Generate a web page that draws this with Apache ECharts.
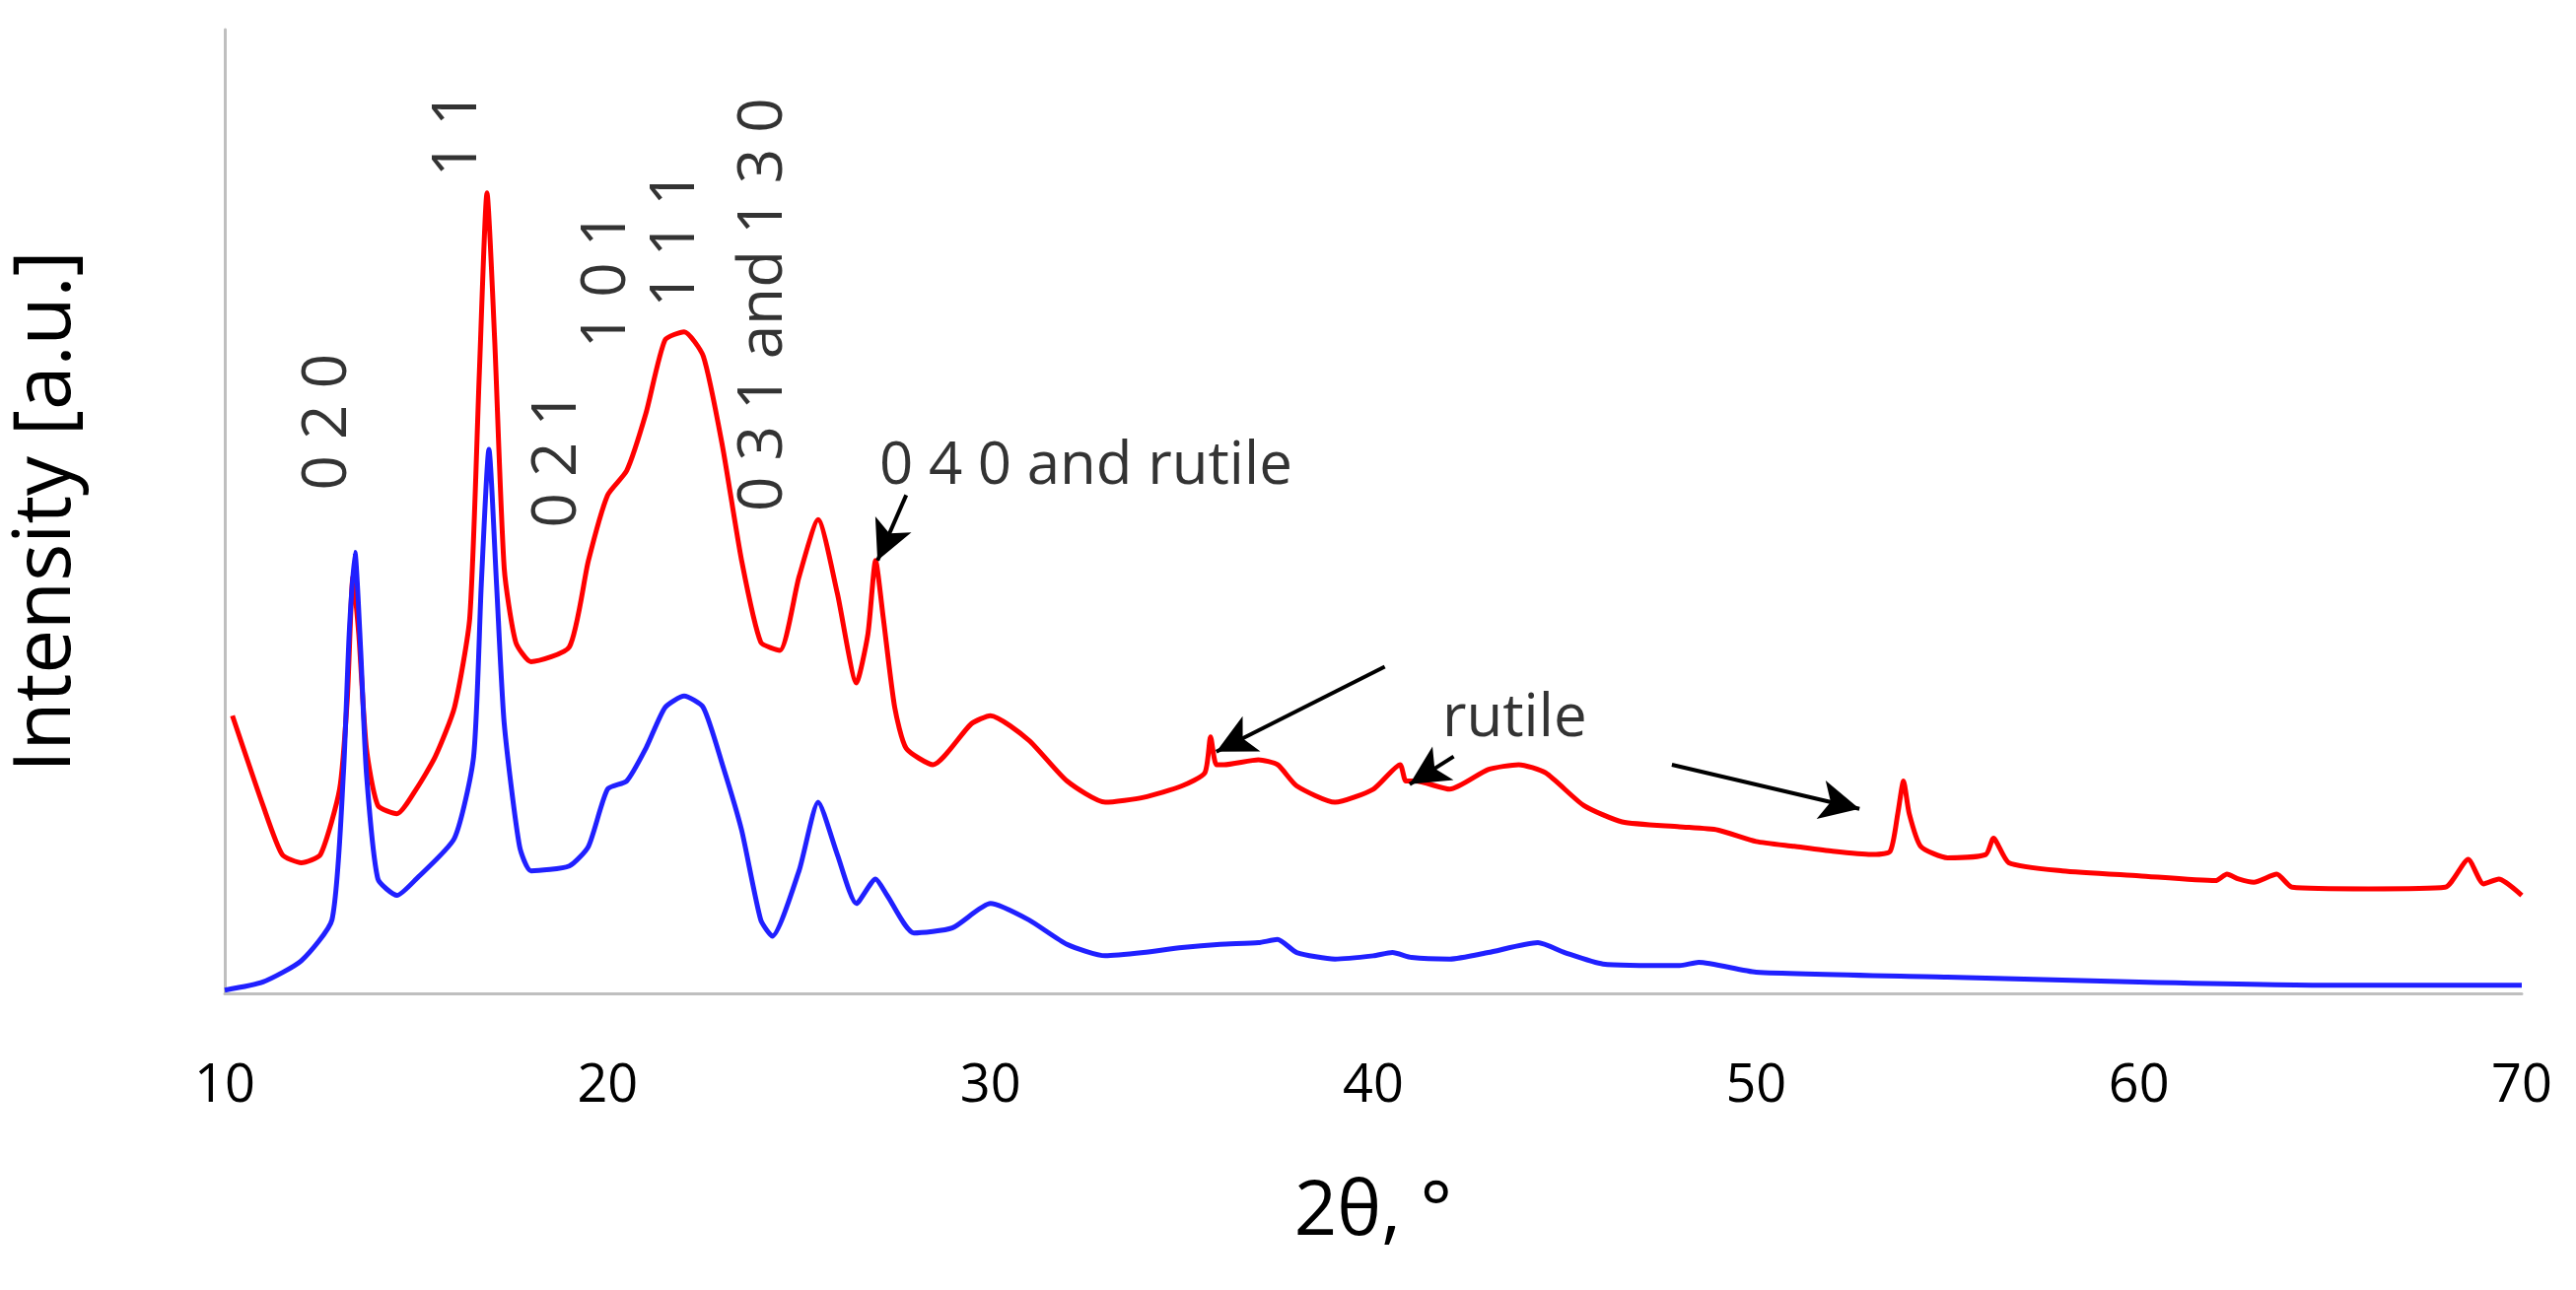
<!DOCTYPE html>
<html>
<head>
<meta charset="utf-8">
<script src="https://cdn.jsdelivr.net/npm/echarts@6/dist/echarts.min.js"></script>
<style>html,body{margin:0;padding:0;background:#fff}#chart{width:2613px;height:1309px}</style>
</head>
<body>
<div id="chart"></div>
<script>
// red pattern (upper trace)
var redX = [10.2,11,11.5,12,12.5,13,13.2,13.35,13.5,13.7,14,14.5,15,15.5,16,16.4,16.65,16.85,17.05,17.3,17.6,18,19,19.5,20,20.5,21,21.5,22,22.5,23,23.5,24,24.5,25,25.5,26,26.5,26.8,27.0,27.2,27.5,27.8,28.5,29.5,30,31,32,33,34,35,35.6,35.75,35.9,36.1,37,37.5,38,39,40,40.7,40.85,41.1,42,43,43.8,44.5,45.5,46.5,48,49,50,51,52,53,53.5,53.7,53.85,54.0,54.3,55,56,56.2,56.6,58,60,62,62.3,62.6,63,63.6,64,66,68,68.6,69,69.4,70];
var redY = [170,115,85,80,85,125,180,255,220,150,115,110,125,145,175,230,380,490,400,260,215,203,212,265,305,320,355,400,405,390,335,265,215,210,255,290,245,190,220,265,230,175,150,140,165,170,155,130,117,120,127,135,157,140,140,143,140,127,117,125,140,130,130,125,137,140,135,115,105,102,100,93,90,87,85,87,110,130,110,90,83,85,95,80,75,72,69,73,70,68,73,65,64,65,82,67,70,60];
// blue pattern (lower trace)
var blueX = [10,11,12,12.8,13.1,13.25,13.4,13.55,13.7,14,14.5,15,16,16.5,16.7,16.9,17.1,17.3,17.7,18,19,19.5,20,20.5,21,21.5,22,22.5,23,23.5,24,24.3,25,25.5,26,26.5,27,27.3,28,29,30,31,32,33,34,35,36,37,37.5,38,39,40,40.5,41,42,43,44.3,45,46,48,48.5,50,55,60,65,70];
var blueY = [2,7,20,45,135,220,270,210,135,70,60,70,95,145,250,333,250,165,90,75,78,90,125,130,150,175,182,175,140,100,45,35,75,117,85,55,70,60,37,40,55,45,30,23,25,28,30,31,33,25,21,23,25,22,21,25,31,25,18,17,19,13,10,7,5,5];
// peak labels: [2θ, intensity, text]
var vertLabels = [[12.7,308,'0 2 0'],[16.1,500,'1 1'],[18.7,285,'0 2 1'],[20.0,395,'1 0 1'],[21.8,420,'1 1 1'],[24.1,295,'0 3 1 and 1 3 0']];
var flatLabels = [[27.1,322,'0 4 0 and rutile'],[41.8,168,'rutile']];
// arrows: [x0,y0,x1,y1]
var arrows = [[27.8,305,27.05,265],[40.3,200,35.9,148],[42.1,145,40.95,128],[47.8,140,52.7,113]];

function pairs(xs, ys) { return xs.map(function(x, i){ return [x, ys[i]]; }); }

var chart = echarts.init(document.getElementById('chart'));
var font = '"Open Sans", sans-serif';
chart.setOption({
    animation: false,
    grid: {left: 218, right: 55, top: 30, bottom: 301},
    xAxis: {
        type: 'value', min: 10, max: 70, interval: 10,
        name: '2θ, °', nameLocation: 'middle', nameGap: 185,
        nameTextStyle: {fontSize: 76, fontFamily: font, color: '#000'},
        axisLine: {lineStyle: {color: '#bfbfbf', width: 3}},
        axisTick: {show: false}, splitLine: {show: false},
        axisLabel: {fontSize: 54, fontFamily: font, color: '#000', margin: 68}
    },
    yAxis: {
        type: 'value', min: 0, max: 590,
        name: 'Intensity [a.u.]', nameLocation: 'middle', nameGap: 140,
        nameTextStyle: {fontSize: 80, fontFamily: font, color: '#000'},
        axisLine: {show: true, lineStyle: {color: '#bfbfbf', width: 3}},
        axisTick: {show: false}, axisLabel: {show: false}, splitLine: {show: false}
    },
    series: [
        {type: 'line', data: pairs(redX, redY), showSymbol: false, smooth: 0.2,
         lineStyle: {color: '#ff0000', width: 5}, z: 2},
        {type: 'line', data: pairs(blueX, blueY), showSymbol: false, smooth: 0.2,
         lineStyle: {color: '#2020ff', width: 5}, z: 3,
         markLine: {
             silent: true, symbolSize: [30, 40],
             lineStyle: {color: '#000', width: 4, type: 'solid'},
             label: {show: false},
             data: arrows.map(function(a){
                 return [{coord: [a[0], a[1]], symbol: 'none'}, {coord: [a[2], a[3]], symbol: 'arrow'}];
             })
         }},
        {type: 'scatter', symbolSize: 0, z: 5,
         data: vertLabels.map(function(d){ return {value: [d[0], d[1]], name: d[2]}; }),
         label: {show: true, position: [0, 0], rotate: 90, align: 'left', verticalAlign: 'middle',
                 formatter: '{b}', fontSize: 62, fontFamily: font, color: '#000'}},
        {type: 'scatter', symbolSize: 0, z: 5,
         data: flatLabels.map(function(d){ return {value: [d[0], d[1]], name: d[2]}; }),
         label: {show: true, position: [0, 0], align: 'left', verticalAlign: 'middle',
                 formatter: '{b}', fontSize: 60, fontFamily: font, color: '#000'}}
    ]
});
</script>
</body>
</html>
